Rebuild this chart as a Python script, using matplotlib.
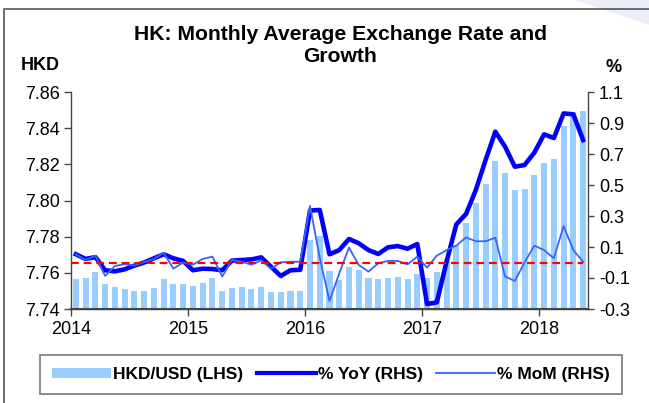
import matplotlib
matplotlib.use("Agg")
import matplotlib.pyplot as plt
import numpy as np
from matplotlib.patches import Rectangle, Polygon
from matplotlib.lines import Line2D

plt.rcParams['font.family'] = ['Liberation Sans', 'DejaVu Sans']

# ---------------- data (Jan 2014 .. May 2018, monthly) ----------------
hkd_usd = [
    7.7566, 7.7571, 7.7605, 7.7540, 7.7520, 7.7511, 7.7500, 7.7500, 7.7516, 7.7566, 7.7538, 7.7538,
    7.7527, 7.7544, 7.7571, 7.7500, 7.7516, 7.7522, 7.7510, 7.7522, 7.7496, 7.7496, 7.7500, 7.7501,
    7.7782, 7.7806, 7.7610, 7.7560, 7.7632, 7.7618, 7.7573, 7.7566, 7.7571, 7.7577, 7.7568, 7.7594,
    7.7570, 7.7603, 7.7665, 7.7756, 7.7878, 7.7984, 7.8092, 7.8218, 7.8150, 7.8060, 7.8062, 7.8143,
    7.8207, 7.8229, 7.8412, 7.8488, 7.8495,
]
yoy = [
    0.053, 0.023, 0.035, -0.050, -0.057, -0.044, -0.020, 0.000, 0.027, 0.053, 0.027, 0.010,
    -0.050, -0.040, -0.042, -0.050, 0.012, 0.016, 0.020, 0.033, -0.027, -0.087, -0.050, -0.047,
    0.335, 0.339, 0.053, 0.080, 0.152, 0.124, 0.080, 0.055, 0.098, 0.106, 0.089, 0.119,
    -0.268, -0.257, 0.005, 0.246, 0.313, 0.468, 0.661, 0.844, 0.747, 0.618, 0.629, 0.709,
    0.827, 0.803, 0.962, 0.956, 0.790,
]
mom = [
    0.053, 0.016, 0.044, -0.087, -0.023, -0.010, -0.020, 0.003, 0.023, 0.063, -0.040, 0.000,
    -0.014, 0.023, 0.038, -0.091, 0.016, 0.005, -0.014, 0.014, -0.040, 0.001, 0.005, 0.005,
    0.365, 0.030, -0.248, -0.070, 0.096, -0.016, -0.059, -0.005, 0.010, 0.010, -0.012, 0.038,
    -0.033, 0.044, 0.080, 0.109, 0.162, 0.137, 0.137, 0.160, -0.091, -0.119, 0.001, 0.109,
    0.080, 0.027, 0.235, 0.080, 0.005,
]
year_labels = ['2014', '2015', '2016', '2017', '2018']
left_ticks = [7.74, 7.76, 7.78, 7.80, 7.82, 7.84, 7.86]
right_ticks = [-0.3, -0.1, 0.1, 0.3, 0.5, 0.7, 0.9, 1.1]

title = "HK: Monthly Average Exchange Rate and\nGrowth"
legend_labels = ['HKD/USD (LHS)', '% YoY (RHS)', '% MoM (RHS)']

# ---------------- figure ----------------
W, H = 649, 403
fig = plt.figure(figsize=(W / 100, H / 100), dpi=100)
fig.patch.set_facecolor('white')

# outer frame and faint corner decoration
fig.add_artist(Polygon([[575 / W, 1], [1, 1], [1, 1 - 25 / H]], closed=True,
                       transform=fig.transFigure, facecolor='#eceef8', edgecolor='none'))
fig.add_artist(Rectangle((4 / W, -0.05), 1.2, 1 - 9 / H + 0.05, transform=fig.transFigure,
                         fill=False, edgecolor='#555555', linewidth=1.2))

ax = fig.add_axes([71 / W, 1 - 309 / H, (588 - 71) / W, (309 - 92) / H])
ax2 = ax.twinx()

n = len(hkd_usd)
x = np.arange(n) + 0.5

ax.bar(x, np.array(hkd_usd) - left_ticks[0], bottom=left_ticks[0], width=0.62,
       color='#99ccff', zorder=1)
ax.set_ylim(left_ticks[0], left_ticks[-1])
ax.set_xlim(0, n)
ax.set_yticks(left_ticks)
ax.set_yticklabels([f"{v:.2f}" for v in left_ticks])
ax.set_xticks(np.arange(0, n, 12))
ax.set_xticklabels(year_labels)

ax2.plot(x, yoy, color='#0000ff', linewidth=3.3, solid_joinstyle='round', zorder=3)
ax2.plot(x, mom, color='#3366ff', linewidth=1.3, zorder=4)
ax2.plot([x[0] - 0.5, x[-1]], [0, 0], color='#ff0000', linewidth=1.6,
         linestyle=(0, (3.5, 2.2)), zorder=5)
ax2.set_ylim(right_ticks[0], right_ticks[-1])
ax2.set_yticks(right_ticks)
ax2.set_yticklabels([f"{v:.1f}" for v in right_ticks])

spine_c = '#444444'
for a in (ax, ax2):
    a.spines['top'].set_visible(False)
    for s in ('left', 'right', 'bottom'):
        a.spines[s].set_color(spine_c)
        a.spines[s].set_linewidth(1.0)
    a.set_facecolor('none')
ax.spines['bottom'].set_linewidth(1.5)
ax.spines['right'].set_visible(False)
ax2.spines['left'].set_visible(False)

ax.tick_params(axis='y', direction='out', length=5, width=1, color=spine_c,
               labelsize=13, pad=3)
ax.tick_params(axis='x', direction='out', length=5, width=1, color=spine_c,
               labelsize=13, pad=4)
ax2.tick_params(axis='y', direction='out', length=4, width=1, color=spine_c,
                labelsize=13, pad=4)

fig.text(340 / W, 1 - 45.5 / H, title, ha='center', va='center', fontsize=15.2,
         fontweight='bold', linespacing=1.25)
fig.text(40 / W, 1 - 65 / H, 'HKD', ha='center', va='center', fontsize=13, fontweight='bold')
fig.text(614 / W, 1 - 67 / H, '%', ha='center', va='center', fontsize=13, fontweight='bold')

handles = [
    Rectangle((0, 0), 1, 1, facecolor='#99ccff', edgecolor='none'),
    Line2D([], [], color='#0000ff', linewidth=3.0),
    Line2D([], [], color='#3366ff', linewidth=1.3),
]
leg = fig.legend(handles, legend_labels, loc='center', bbox_to_anchor=(331 / W, 1 - 374.5 / H),
                 ncol=3, frameon=True, fancybox=False,
                 prop={'weight': 'bold', 'size': 12.5}, handlelength=3.4, handleheight=0.5,
                 handletextpad=0.1, columnspacing=0.8, borderpad=0.7)
leg.get_frame().set_edgecolor('#555555')
leg.get_frame().set_linewidth(1.2)

fig.savefig('out.png', dpi=100)
